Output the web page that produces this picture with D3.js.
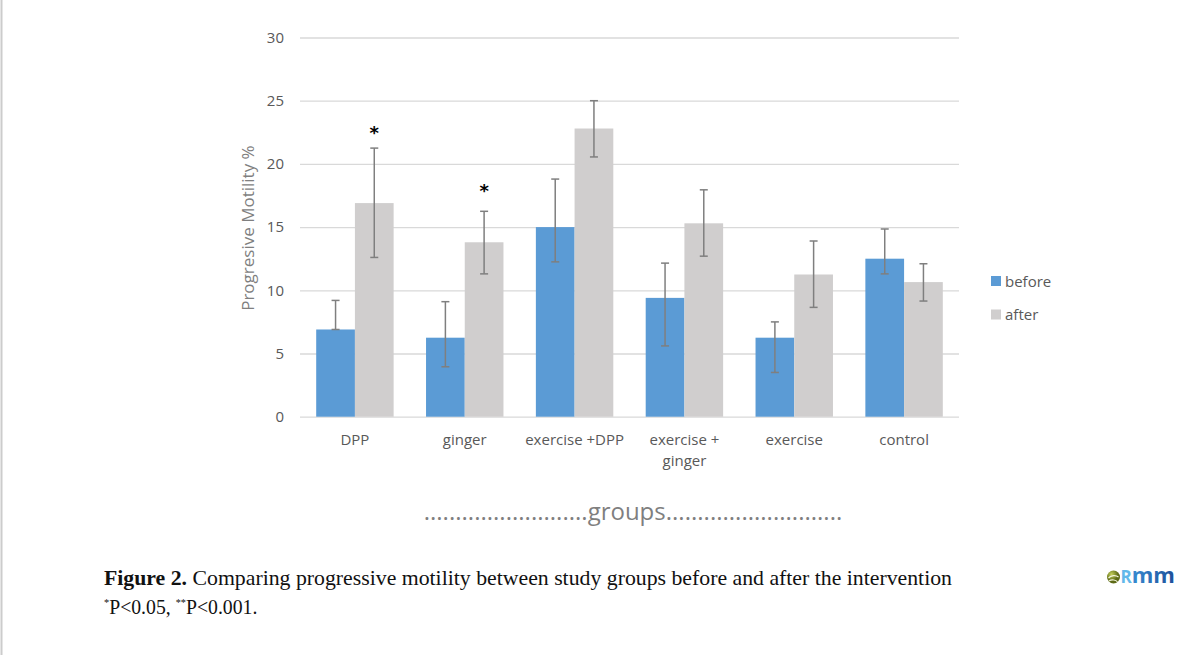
<!DOCTYPE html>
<html>
<head>
<meta charset="utf-8">
<script src="https://cdn.jsdelivr.net/npm/d3@7/dist/d3.min.js"></script>
<style>
  body { margin: 0; background: #fff; }
  svg { display: block; }
  .tick text { font-family: "Open Sans", sans-serif; fill: #595959; }
</style>
</head>
<body>
<svg id="chart" width="1179" height="655"></svg>
<script>
// values
const categories = ["DPP", "ginger", "exercise +DPP", "exercise + ginger", "exercise", "control"];
const tickLines = [["DPP"], ["ginger"], ["exercise +DPP"], ["exercise +", "ginger"], ["exercise"], ["control"]];
const seriesNames = ["before", "after"];
const before = [6.9, 6.25, 15.0, 9.4, 6.25, 12.5];
const after = [16.9, 13.8, 22.8, 15.3, 11.25, 10.65];
const beforeHigh = [9.2, 9.1, 18.8, 12.15, 7.5, 14.85];
const beforeLow = [6.9, 3.95, 12.25, 5.6, 3.5, 11.3];
const afterHigh = [21.25, 16.25, 25.0, 17.95, 13.9, 12.1];
const afterLow = [12.6, 11.3, 20.55, 12.7, 8.65, 9.15];
const stars = ["*", "*", "", "", "", ""];
const starLevel = [22.0, 17.35, 0, 0, 0, 0];
const yTicks = [0, 5, 10, 15, 20, 25, 30];

const colors = { before: "#5b9bd5", after: "#d0cece" };

const rows = categories.map((c, i) => ({
    cat: c,
    bars: [
        { key: "before", value: before[i], lo: beforeLow[i], hi: beforeHigh[i] },
        { key: "after", value: after[i], lo: afterLow[i], hi: afterHigh[i] }
    ]
}));

const svg = d3.select("#chart");
svg.append("rect").attr("width", 1179).attr("height", 655).attr("fill", "#fff");

// page edge
svg.append("line")
    .attr("x1", 1.5).attr("x2", 1.5).attr("y1", 0).attr("y2", 655)
    .attr("stroke", "#cccccc").attr("stroke-width", 2);

const plotLeft = 300, plotRight = 959, plotTop = 37.5, plotBottom = 416.7;

const x = d3.scaleBand()
    .domain(categories)
    .range([plotLeft, plotRight])
    .paddingInner(0.295)
    .paddingOuter(0.1475);

const xs = d3.scaleBand()
    .domain(seriesNames)
    .range([0, x.bandwidth()]);

const y = d3.scaleLinear()
    .domain([0, 30])
    .range([plotBottom, plotTop]);

// y axis + gridlines
const yAxis = svg.append("g")
    .attr("transform", `translate(${plotLeft},0)`)
    .call(d3.axisLeft(y).tickValues(yTicks).tickSize(-(plotRight - plotLeft)).tickPadding(16));
yAxis.select(".domain").remove();
yAxis.selectAll(".tick line").attr("stroke", "#d9d9d9").attr("stroke-width", 1.3);
yAxis.selectAll(".tick text").attr("font-size", 15);

// x axis labels
const xAxis = svg.append("g")
    .attr("transform", `translate(0,${plotBottom})`)
    .call(d3.axisBottom(x).tickSize(0).tickPadding(0));
xAxis.select(".domain").remove();
xAxis.selectAll(".tick text")
    .attr("font-size", 15)
    .attr("dy", null)
    .attr("y", 0)
    .text(null)
    .each(function(d, i) {
        const t = d3.select(this);
        tickLines[i].forEach((line, k) => {
            t.append("tspan")
                .attr("x", 0)
                .attr("y", 28 + k * 21)
                .text(line);
        });
    });

// bars
const groups = svg.append("g")
    .selectAll("g")
    .data(rows)
    .join("g")
    .attr("transform", d => `translate(${x(d.cat)},0)`);

groups.selectAll("rect")
    .data(d => d.bars)
    .join("rect")
    .attr("x", d => xs(d.key))
    .attr("width", xs.bandwidth())
    .attr("y", d => y(d.value))
    .attr("height", d => y(0) - y(d.value))
    .attr("fill", d => colors[d.key]);

// error bars
const err = groups.selectAll("g.err")
    .data(d => d.bars)
    .join("g")
    .attr("class", "err")
    .attr("stroke", "#7f7f7f")
    .attr("stroke-width", 1.5);

const cx = d => xs(d.key) + xs.bandwidth() / 2;
err.append("line")
    .attr("x1", cx).attr("x2", cx)
    .attr("y1", d => y(d.lo)).attr("y2", d => y(d.hi));
err.append("line")
    .attr("x1", d => cx(d) - 4).attr("x2", d => cx(d) + 4)
    .attr("y1", d => y(d.hi)).attr("y2", d => y(d.hi));
err.append("line")
    .attr("x1", d => cx(d) - 4).attr("x2", d => cx(d) + 4)
    .attr("y1", d => y(d.lo)).attr("y2", d => y(d.lo));

// significance marks
svg.append("g")
    .selectAll("text")
    .data(categories.filter((c, i) => stars[i]))
    .join("text")
    .attr("x", d => x(d) + xs("after") + xs.bandwidth() / 2)
    .attr("y", d => y(starLevel[categories.indexOf(d)]))
    .attr("text-anchor", "middle")
    .attr("font-family", "DejaVu Sans, sans-serif")
    .attr("font-weight", "bold")
    .attr("font-size", 18)
    .attr("fill", "#000")
    .text(d => stars[categories.indexOf(d)]);

// axis title
svg.append("text")
    .attr("transform", `translate(254,${(plotTop + plotBottom) / 2 + 1}) rotate(-90)`)
    .attr("text-anchor", "middle")
    .attr("font-family", "Open Sans, sans-serif")
    .attr("font-size", 17)
    .attr("fill", "#7f7f7f")
    .text("Progresive Motility %");

// legend
const legend = svg.append("g")
    .selectAll("g")
    .data(seriesNames)
    .join("g")
    .attr("transform", (d, i) => `translate(991,${276 + i * 33.5})`);
legend.append("rect")
    .attr("width", 10).attr("height", 10)
    .attr("fill", d => colors[d]);
legend.append("text")
    .attr("x", 14).attr("y", 10.5)
    .attr("font-family", "Open Sans, sans-serif")
    .attr("font-size", 15)
    .attr("fill", "#595959")
    .text(d => d);

// x title
svg.append("text")
    .attr("x", 633).attr("y", 520)
    .attr("text-anchor", "middle")
    .attr("font-family", "Open Sans, sans-serif")
    .attr("font-size", 24)
    .attr("fill", "#7f7f7f")
    .text(".".repeat(26) + "groups" + ".".repeat(28));

// caption
const cap = svg.append("text")
    .attr("x", 104).attr("y", 585)
    .attr("font-family", "Liberation Serif, serif")
    .attr("font-size", 21)
    .attr("fill", "#111")
    .attr("textLength", 848)
    .attr("lengthAdjust", "spacingAndGlyphs");
cap.append("tspan").attr("font-weight", "bold").text("Figure 2.");
cap.append("tspan").text(" Comparing progressive motility between study groups before and after the intervention");

const cap2 = svg.append("text")
    .attr("transform", "translate(104,614) scale(0.94,1)")
    .attr("font-family", "Liberation Serif, serif")
    .attr("font-size", 21)
    .attr("fill", "#111");
cap2.append("tspan").attr("font-size", 11).attr("baseline-shift", "8").text("*");
cap2.append("tspan").text("P<0.05, ");
cap2.append("tspan").attr("font-size", 11).attr("baseline-shift", "8").text("**");
cap2.append("tspan").text("P<0.001.");

// journal mark
const defs = svg.append("defs");
const grad = defs.append("linearGradient").attr("id", "lg");
grad.append("stop").attr("offset", "0").attr("stop-color", "#3f9be0");
grad.append("stop").attr("offset", "1").attr("stop-color", "#1d4f99");
const ball = defs.append("radialGradient").attr("id", "ball").attr("cx", "0.35").attr("cy", "0.3");
ball.append("stop").attr("offset", "0").attr("stop-color", "#c4cf5a");
ball.append("stop").attr("offset", "1").attr("stop-color", "#5d6a16");

const logo = svg.append("g").attr("transform", "translate(1107,570)");
logo.append("circle").attr("cx", 6.5).attr("cy", 7).attr("r", 6.5).attr("fill", "url(#ball)");
logo.append("path")
    .attr("d", "M1.5,8 C4,5 9,5 11.5,7 M2,11 C5,9 9,10 10.5,12")
    .attr("fill", "none").attr("stroke", "#f3f5dc").attr("stroke-width", 1.2);
const mark = logo.append("text")
    .attr("x", 13.5).attr("y", 13)
    .attr("font-family", "Open Sans, sans-serif")
    .attr("font-weight", "bold");
mark.append("tspan").attr("font-size", 17).attr("fill", "#62b8ea").text("R");
mark.append("tspan").attr("font-size", 22).attr("fill", "url(#lg)").text("mm");
</script>
</body>
</html>
